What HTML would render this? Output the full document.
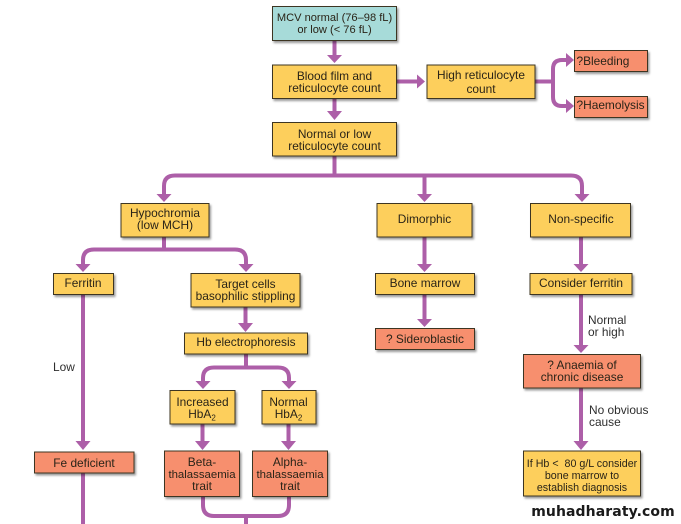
<!DOCTYPE html>
<html><head><meta charset="utf-8">
<style>
html,body{margin:0;padding:0;background:#fff;width:681px;height:524px;overflow:hidden}
svg{display:block}
text{font-family:"Liberation Sans",sans-serif;font-size:11.9px;fill:#2a2418;text-anchor:middle}
.b{stroke:#3c3524;stroke-width:1;filter:url(#s)}
.y{fill:#fdcf5c}.o{fill:#f78f6e}.t{fill:#a7dbd9}
.l{text-anchor:start;fill:#2e2e2e}
.c{fill:none;stroke:#ad5fa8;stroke-width:4}
.a{fill:#ad5fa8}
</style></head><body>
<svg width="681" height="524" viewBox="0 0 681 524" xmlns="http://www.w3.org/2000/svg">
<defs><filter id="s" x="-10%" y="-10%" width="125%" height="135%"><feDropShadow dx="1.5" dy="2" stdDeviation="1" flood-color="#000" flood-opacity=".4"/></filter></defs>

<!-- connectors -->
<path class="c" d="M334.500 40V56M334.500 98V112M397 81.500H418M535 81.500H553M553 81.500V69Q553 60 562 60H568M553 81.500V97Q553 106 562 106H568"/>
<path class="c" d="M334.500 156V175.500M164 195V186Q164 175.500 175 175.500H571Q582 175.500 582 186V195M424.500 175.500V195"/>
<path class="c" d="M164 237V249.500M83 265V260Q83 249.500 94 249.500H235Q246 249.500 246 260V265"/>
<path class="c" d="M83 294V444M83 473V524"/>
<path class="c" d="M245.500 307V324M246 354V367.500M203 382V378Q203 367.500 214 367.500H278Q289 367.500 289 378V382"/>
<path class="c" d="M202.500 424V443M288.500 424V443"/>
<path class="c" d="M203 497V505Q203 516 214 516H278Q289 516 289 505V497M246 516V524"/>
<path class="c" d="M424.500 237V265M424.500 295V320M581 237V265M581 295V346M581 388V443"/>

<!-- arrowheads -->
<g class="a">
<path d="M327 55H342L334.500 63Z"/>
<path d="M327 111H342L334.500 120Z"/>
<path d="M417 74.500L425 81.500L417 88.500Z"/>
<path d="M566 53L574 60L566 67Z"/>
<path d="M566 99L574 106L566 113Z"/>
<path d="M156.500 194H171.500L164 202Z"/>
<path d="M417 194H432L424.500 202Z"/>
<path d="M574.500 194H589.500L582 202Z"/>
<path d="M75.500 264H90.500L83 272Z"/>
<path d="M238.500 264H253.500L246 272Z"/>
<path d="M238 323H253L245.500 332Z"/>
<path d="M195.500 381H210.500L203 389Z"/>
<path d="M281.500 381H296.500L289 389Z"/>
<path d="M75.500 441H90.500L83 450Z"/>
<path d="M195 441H210L202.500 450Z"/>
<path d="M281 441H296L288.500 450Z"/>
<path d="M417 264H432L424.500 272Z"/>
<path d="M573.500 264H588.500L581 272Z"/>
<path d="M417 319H432L424.500 327Z"/>
<path d="M573.500 345H588.500L581 353Z"/>
<path d="M573.500 441H588.500L581 450Z"/>
</g>

<!-- boxes -->
<rect class="b t" x="272.500" y="6.500" width="124" height="34"/>
<rect class="b y" x="272.500" y="65" width="124" height="33.500"/>
<rect class="b y" x="272.500" y="122.500" width="124" height="33.500"/>
<rect class="b y" x="427" y="65" width="108" height="33.500"/>
<rect class="b o" x="574.500" y="50.500" width="73" height="21"/>
<rect class="b o" x="574.500" y="96.500" width="73" height="21"/>
<rect class="b y" x="121" y="203.500" width="88" height="33.500"/>
<rect class="b y" x="377" y="203.500" width="95" height="33.500"/>
<rect class="b y" x="530.500" y="203.500" width="100" height="33.500"/>
<rect class="b y" x="53.500" y="273.500" width="60" height="21"/>
<rect class="b y" x="191" y="273.500" width="109" height="33.500"/>
<rect class="b y" x="375.500" y="273.500" width="99" height="21"/>
<rect class="b y" x="530" y="273.500" width="102" height="21"/>
<rect class="b y" x="184.500" y="333" width="123" height="21"/>
<rect class="b o" x="375.500" y="328.500" width="99" height="21"/>
<rect class="b o" x="523.500" y="354.500" width="117" height="33.500"/>
<rect class="b y" x="170" y="390.500" width="65" height="33.500"/>
<rect class="b y" x="262" y="390.500" width="54" height="33.500"/>
<rect class="b o" x="34.500" y="452" width="99.500" height="21"/>
<rect class="b o" x="164.500" y="451" width="75" height="45.500"/>
<rect class="b o" x="252.500" y="451" width="75" height="45.500"/>
<rect class="b y" x="523.500" y="451" width="117" height="45"/>

<!-- labels -->
<text x="334.500" y="21" style="font-size:11.100px">MCV normal (76–98 fL)</text>
<text x="334.500" y="33" style="font-size:11.100px">or low (&lt; 76 fL)</text>
<text x="334.500" y="80">Blood film and</text>
<text x="334.500" y="92">reticulocyte count</text>
<text x="334.500" y="138">Normal or low</text>
<text x="334.500" y="150">reticulocyte count</text>
<text x="481" y="79">High reticulocyte</text>
<text x="481" y="93">count</text>
<text x="576.500" y="65" style="text-anchor:start">?Bleeding</text>
<text x="576.500" y="109" style="text-anchor:start">?Haemolysis</text>
<text x="165" y="217">Hypochromia</text>
<text x="165" y="229">(low MCH)</text>
<text x="424.500" y="223">Dimorphic</text>
<text x="581" y="223">Non-specific</text>
<text x="83" y="287">Ferritin</text>
<text x="245.500" y="288">Target cells</text>
<text x="245.500" y="300">basophilic stippling</text>
<text x="425" y="287">Bone marrow</text>
<text x="581" y="287">Consider ferritin</text>
<text x="246" y="346">Hb electrophoresis</text>
<text x="425" y="343">? Sideroblastic</text>
<text x="582" y="369">? Anaemia of</text>
<text x="582" y="381">chronic disease</text>
<text x="202.500" y="406">Increased</text>
<text x="202" y="418">HbA<tspan font-size="8" dy="2.500">2</tspan></text>
<text x="288.500" y="406">Normal</text>
<text x="288.500" y="418">HbA<tspan font-size="8" dy="2.500">2</tspan></text>
<text x="84" y="467">Fe deficient</text>
<text x="202" y="466">Beta-</text>
<text x="202" y="478" style="font-size:11.400px">thalassaemia</text>
<text x="202" y="490">trait</text>
<text x="290" y="466">Alpha-</text>
<text x="290" y="478" style="font-size:11.400px">thalassaemia</text>
<text x="290" y="490">trait</text>
<text x="582" y="467" style="font-size:10.700px">If Hb &lt;&#160; 80 g/L consider</text>
<text x="582" y="479" style="font-size:10.700px">bone marrow to</text>
<text x="582" y="491" style="font-size:10.700px">establish diagnosis</text>
<text class="l" x="53" y="371">Low</text>
<text class="l" x="588" y="324">Normal</text>
<text class="l" x="588" y="336">or high</text>
<text class="l" x="589" y="414">No obvious</text>
<text class="l" x="589" y="426">cause</text>
<text x="603" y="516" style="font-family:'DejaVu Sans',sans-serif;font-weight:bold;font-size:14px;fill:#1a1a1a;letter-spacing:.1px">muhadharaty.com</text>
</svg>
</body></html>
